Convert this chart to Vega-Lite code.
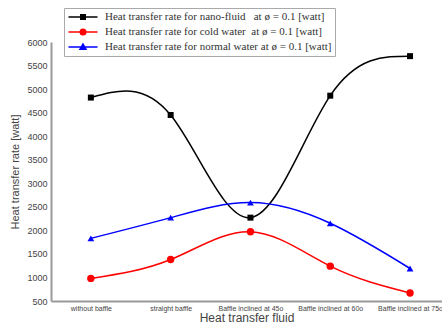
{
  "$schema": "https://vega.github.io/schema/vega-lite/v6.json",
  "width": 391,
  "height": 259,
  "autosize": {"type": "none"},
  "padding": {"left": 51, "top": 42, "right": 0, "bottom": 29},
  "background": "white",
  "config": {
    "view": {"stroke": null},
    "axis": {"labelFont": "Liberation Sans", "titleFont": "Liberation Sans", "labelColor": "#444", "titleColor": "#444", "titleFontWeight": "normal", "domainColor": "#999", "domainWidth": 2, "ticks": false, "grid": false},
    "legend": {"orient": "none", "legendX": 13, "legendY": -34, "strokeColor": "#aaa", "fillColor": "white", "padding": 3, "labelFont": "Liberation Serif", "labelFontSize": 11, "labelColor": "#333", "labelLimit": 500, "symbolSize": 100, "symbolStrokeWidth": 1.5, "symbolOffset": 10, "labelOffset": 16, "rowPadding": 3}
  },
  "datasets": {"rates": [
    {"fluid": "without baffle", "series": "Heat transfer rate for nano-fluid\u00a0\u00a0 at ø = 0.1 [watt]", "rate": 4820},
    {"fluid": "straight baffle", "series": "Heat transfer rate for nano-fluid\u00a0\u00a0 at ø = 0.1 [watt]", "rate": 4450},
    {"fluid": "Baffle inclined at 45o", "series": "Heat transfer rate for nano-fluid\u00a0\u00a0 at ø = 0.1 [watt]", "rate": 2270},
    {"fluid": "Baffle inclined at 60o", "series": "Heat transfer rate for nano-fluid\u00a0\u00a0 at ø = 0.1 [watt]", "rate": 4860},
    {"fluid": "Baffle inclined at 75o", "series": "Heat transfer rate for nano-fluid\u00a0\u00a0 at ø = 0.1 [watt]", "rate": 5700},
    {"fluid": "without baffle", "series": "Heat transfer rate for cold water\u00a0 at ø = 0.1 [watt]", "rate": 980},
    {"fluid": "straight baffle", "series": "Heat transfer rate for cold water\u00a0 at ø = 0.1 [watt]", "rate": 1380},
    {"fluid": "Baffle inclined at 45o", "series": "Heat transfer rate for cold water\u00a0 at ø = 0.1 [watt]", "rate": 1970},
    {"fluid": "Baffle inclined at 60o", "series": "Heat transfer rate for cold water\u00a0 at ø = 0.1 [watt]", "rate": 1240},
    {"fluid": "Baffle inclined at 75o", "series": "Heat transfer rate for cold water\u00a0 at ø = 0.1 [watt]", "rate": 670},
    {"fluid": "without baffle", "series": "Heat transfer rate for normal water at ø = 0.1 [watt]", "rate": 1830},
    {"fluid": "straight baffle", "series": "Heat transfer rate for normal water at ø = 0.1 [watt]", "rate": 2270},
    {"fluid": "Baffle inclined at 45o", "series": "Heat transfer rate for normal water at ø = 0.1 [watt]", "rate": 2590},
    {"fluid": "Baffle inclined at 60o", "series": "Heat transfer rate for normal water at ø = 0.1 [watt]", "rate": 2150},
    {"fluid": "Baffle inclined at 75o", "series": "Heat transfer rate for normal water at ø = 0.1 [watt]", "rate": 1190}
  ]},
  "data": {"name": "rates"},
  "encoding": {
    "x": {"field": "fluid", "type": "ordinal", "sort": ["without baffle", "straight baffle", "Baffle inclined at 45o", "Baffle inclined at 60o", "Baffle inclined at 75o"], "scale": {"type": "point", "padding": 0.45, "align": 0.555}, "axis": {"title": "Heat transfer fluid", "labelAngle": 0, "labelFontSize": 7, "labelPadding": 3, "titleFontSize": 12, "titlePadding": 1}},
    "y": {"field": "rate", "type": "quantitative", "scale": {"domain": [500, 6000], "nice": false, "zero": false}, "axis": {"title": "Heat transfer rate [watt]", "format": "d", "values": [500, 1000, 1500, 2000, 2500, 3000, 3500, 4000, 4500, 5000, 5500, 6000], "labelFontSize": 9, "labelPadding": 4, "titleFontSize": 11, "titlePadding": 6}}
  },
  "layer": [
    {
      "transform": [{"filter": "indexof(datum.series, 'nano') >= 0"}],
      "mark": {"type": "line", "interpolate": "natural", "strokeWidth": 1.5, "color": "#000000"},
      "encoding": {}
    },
    {
      "transform": [{"filter": "indexof(datum.series, 'cold') >= 0"}],
      "mark": {"type": "line", "interpolate": "natural", "strokeWidth": 1.5, "color": "#ff0000"},
      "encoding": {}
    },
    {
      "transform": [{"filter": "indexof(datum.series, 'normal') >= 0"}],
      "mark": {"type": "line", "interpolate": "natural", "strokeWidth": 1.5, "color": "#0000ff"},
      "encoding": {}
    },
    {
      "transform": [{"filter": "indexof(datum.series, 'nano') >= 0"}],
      "mark": {"type": "point", "filled": true, "opacity": 1, "shape": "square", "size": 36, "color": "#000000"}
    },
    {
      "transform": [{"filter": "indexof(datum.series, 'cold') >= 0"}],
      "mark": {"type": "point", "filled": true, "opacity": 1, "shape": "circle", "size": 55, "color": "#ff0000"}
    },
    {
      "transform": [{"filter": "indexof(datum.series, 'normal') >= 0"}],
      "mark": {"type": "point", "filled": true, "opacity": 1, "shape": "triangle-up", "size": 45, "color": "#0000ff"}
    },
    {
      "mark": {"type": "point", "filled": true, "opacity": 0, "strokeWidth": 1.5},
      "encoding": {
        "fill": {"field": "series", "type": "nominal", "scale": {"domain": ["Heat transfer rate for nano-fluid\u00a0\u00a0 at ø = 0.1 [watt]", "Heat transfer rate for cold water\u00a0 at ø = 0.1 [watt]", "Heat transfer rate for normal water at ø = 0.1 [watt]"], "range": ["#000000", "#ff0000", "#0000ff"]}, "legend": {"title": null}},
        "stroke": {"field": "series", "type": "nominal", "scale": {"domain": ["Heat transfer rate for nano-fluid\u00a0\u00a0 at ø = 0.1 [watt]", "Heat transfer rate for cold water\u00a0 at ø = 0.1 [watt]", "Heat transfer rate for normal water at ø = 0.1 [watt]"], "range": ["#000000", "#ff0000", "#0000ff"]}, "legend": {"title": null}},
        "shape": {"field": "series", "type": "nominal", "scale": {"domain": ["Heat transfer rate for nano-fluid\u00a0\u00a0 at ø = 0.1 [watt]", "Heat transfer rate for cold water\u00a0 at ø = 0.1 [watt]", "Heat transfer rate for normal water at ø = 0.1 [watt]"], "range": ["M-2.9,0H2.9M-0.45,-0.45H0.45V0.45H-0.45ZM-0.45,-0.2H0.45M-0.45,0.2H0.45", "M-2.9,0H2.9M0.55,0A0.55,0.55,0,1,1,-0.55,0A0.55,0.55,0,1,1,0.55,0ZM0.25,0A0.25,0.25,0,1,1,-0.25,0A0.25,0.25,0,1,1,0.25,0Z", "M-2.9,0H2.9M0,-0.6L0.6,0.45L-0.6,0.45ZM-0.23,-0.2H0.23M-0.46,0.2H0.46"]}, "legend": {"title": null}}
      }
    }
  ]
}
